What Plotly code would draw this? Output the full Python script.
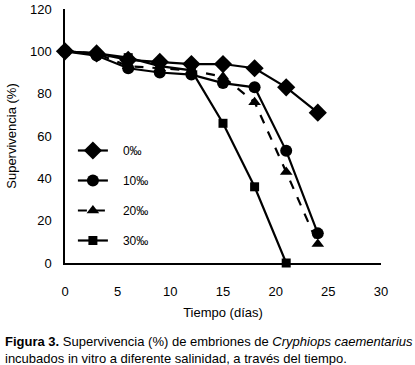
import plotly.graph_objects as go

dias = [0, 3, 6, 9, 12, 15, 18, 21, 24]
dias_30 = [0, 3, 6, 9, 12, 15, 18, 21]
s0 = [100, 99, 96, 95, 94, 94, 92, 83, 71]
s10 = [100, 98, 92, 90, 89, 85, 83, 53, 14]
s20 = [100, 99, 93, 92, 91, 88, 76, 43, 9]
s30 = [100, 99, 97, 93, 91, 66, 36, 0]
names = ["0‰", "10‰", "20‰", "30‰"]
x_ticks = [0, 5, 10, 15, 20, 25, 30]
y_ticks = [0, 20, 40, 60, 80, 100, 120]

fig = go.Figure()
series = [
    (dias, s0, names[0], "diamond", 14, "solid"),
    (dias, s10, names[1], "circle", 12, "solid"),
    (dias, s20, names[2], "triangle-up", 11, "dash"),
    (dias_30, s30, names[3], "square", 9, "solid"),
]
for i, (x, y, n, sym, sz, dash) in enumerate(series):
    fig.add_trace(go.Scatter(
        x=x, y=y, name="   " + n, mode="lines+markers",
        line=dict(color="black", width=2.2, dash=dash),
        marker=dict(symbol=sym, size=sz, color="black"),
        legendgroup=str(i), cliponaxis=False,
    ))

font = "Liberation Sans, Arial, sans-serif"
fig.update_layout(
    width=415, height=365,
    margin=dict(l=65, r=34, t=9, b=102, autoexpand=False),
    paper_bgcolor="white", plot_bgcolor="white",
    font=dict(family=font, size=12, color="black"),
    showlegend=True,
    legend=dict(x=0.025, y=0.50, xanchor="left", yanchor="top",
                tracegroupgap=11, font=dict(size=12, color="black"),
                bgcolor="rgba(0,0,0,0)"),
    xaxis=dict(range=[0, 30], tickvals=x_ticks, showgrid=False, zeroline=False,
               showline=True, linecolor="black", linewidth=1.5, ticks="",
               automargin=False,
               ticklabelstandoff=16, tickfont=dict(size=13),
               title=dict(text="Tiempo (días)", font=dict(size=13), standoff=10)),
    yaxis=dict(range=[0, 120], tickvals=y_ticks, showgrid=False, zeroline=False,
               showline=True, linecolor="black", linewidth=1.5, ticks="",
               automargin=False,
               ticklabelstandoff=9, tickfont=dict(size=13),
               title=dict(text="Supervivencia (%)", font=dict(size=13), standoff=10)),
)
fig.add_annotation(
    xref="paper", yref="paper", x=-0.196, y=-0.27, xanchor="left", yanchor="top",
    align="left", showarrow=False, font=dict(size=13, family=font),
    text="<b>Figura 3.</b> Supervivencia (%) de embriones de <i>Cryphiops caementarius</i><br>incubados in vitro a diferente salinidad, a través del tiempo.",
)
fig.write_html("out.html", config={"displayModeBar": False},
               post_script="document.body.style.margin='0';")
